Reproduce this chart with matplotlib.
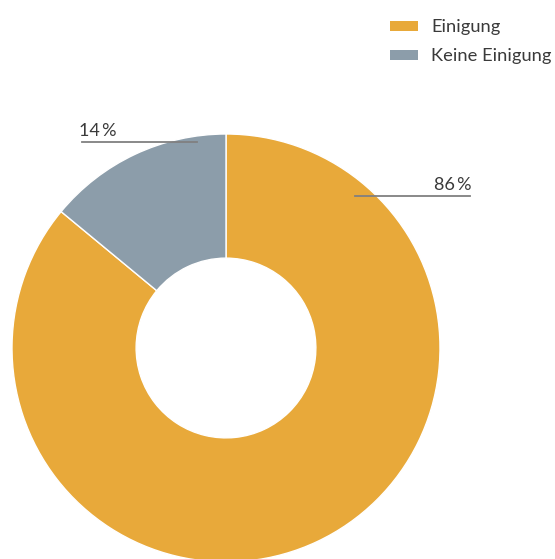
import matplotlib.pyplot as plt
from matplotlib.patches import Patch

labels = ["Einigung", "Keine Einigung"]
shares = [86, 14]
colors = ["#E8A93A", "#8C9DAA"]

plt.rcParams["font.family"] = ["Lato", "DejaVu Sans"]

fig = plt.figure(figsize=(5.55, 5.59), dpi=100)
ax = fig.add_axes([0, 0, 1, 1])

cx, cy, r = 226, 211, 214
ax.pie(shares, colors=colors, startangle=90, counterclock=False,
       center=(cx, cy), radius=r, frame=True,
       wedgeprops=dict(width=r * 0.58, edgecolor="white", linewidth=1))
ax.set_xlim(0, 555)
ax.set_ylim(0, 559)
ax.set_aspect("equal")
ax.axis("off")

# leader lines with the percentage labels
text_color = "#3a3a3a"
line_color = "#808080"
ax.plot([82, 197], [417, 417], color=line_color, lw=1.3)
ax.text(79, 420, f"{shares[1]}\u2009%", color=text_color, fontsize=13,
        ha="left", va="bottom")
ax.plot([355, 470], [363, 363], color=line_color, lw=1.3)
ax.text(471, 366, f"{shares[0]}\u2009%", color=text_color, fontsize=13,
        ha="right", va="bottom")

handles = [Patch(facecolor=c, edgecolor="none") for c in colors]
fig.legend(handles, labels, loc="upper left", bbox_to_anchor=(0.673, 0.995),
           frameon=False, fontsize=13.2, handlelength=1.5, handleheight=0.5,
           labelspacing=0.72, handletextpad=0.75, labelcolor=text_color)

fig.savefig("out.png", dpi=100)
